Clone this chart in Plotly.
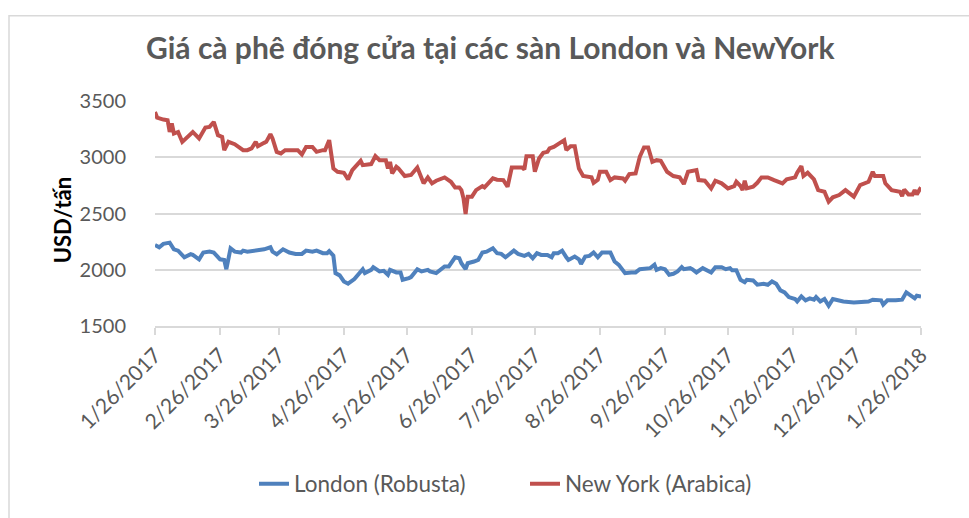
import pandas as pd
import plotly.graph_objects as go

# ---- data ----
start_date = "2017-01-26"

# New York (Arabica): days since 1/26/2017, USD/tấn
ny_day = [0, 1, 4, 6, 7, 8, 9, 11, 13, 17, 18, 21, 24, 26, 28, 30, 32, 33, 35, 38,
          42, 44, 46, 48, 49, 52, 53, 55, 56, 58, 60, 62, 67, 68, 70, 72, 75, 76, 77, 80,
          81, 83, 85, 87, 90, 92, 94, 98, 99, 103, 105, 107, 110, 111, 112, 113, 115, 116, 119, 122,
          125, 128, 130, 132, 134, 138, 141, 143, 145, 146, 147, 148, 149, 151, 153, 156, 157, 161, 163, 166,
          168, 170, 175, 176, 177, 180, 181, 183, 185, 187, 188, 190, 192, 195, 196, 198, 200, 202, 204, 208,
          209, 211, 212, 215, 217, 219, 223, 224, 226, 229, 231, 233, 235, 237, 239, 241, 244, 247, 250, 252,
          254, 258, 259, 262, 265, 267, 270, 273, 276, 277, 279, 280, 281, 282, 285, 287, 289, 292, 295, 299,
          301, 305, 306, 308, 309, 311, 314, 316, 319, 321, 323, 326, 329, 333, 336, 340, 342, 343, 347, 348,
          351, 355, 356, 357, 359, 361, 362, 363, 365]
ny_price = [3402, 3353, 3335, 3329, 3225, 3300, 3211, 3225, 3137, 3211, 3225, 3167, 3264, 3270, 3314, 3196, 3181, 3063, 3137, 3116,
            3063, 3063, 3078, 3137, 3098, 3128, 3137, 3205, 3167, 3048, 3034, 3063, 3069, 3063, 3025, 3092, 3092, 3069, 3048, 3063,
            3063, 3152, 2900, 2871, 2862, 2803, 2886, 2968, 2930, 2939, 3010, 2974, 2974, 2900, 2960, 2856, 2915, 2900, 2833, 2842,
            2909, 2768, 2821, 2768, 2791, 2821, 2782, 2732, 2732, 2708, 2635, 2495, 2650, 2650, 2708, 2744, 2732, 2812, 2800, 2797,
            2738, 2909, 2909, 2891, 3010, 3010, 2871, 2989, 3039, 3048, 3078, 3092, 3116, 3152, 3063, 3098, 3098, 2900, 2833, 2821,
            2773, 2800, 2871, 2871, 2797, 2821, 2812, 2791, 2850, 2856, 3004, 3087, 3087, 2960, 2974, 2968, 2871, 2833, 2821, 2762,
            2871, 2886, 2797, 2791, 2723, 2791, 2768, 2723, 2744, 2782, 2744, 2708, 2791, 2723, 2738, 2773, 2821, 2821, 2797, 2768,
            2803, 2821, 2862, 2921, 2833, 2862, 2803, 2708, 2693, 2605, 2644, 2664, 2708, 2650, 2753, 2782, 2871, 2833, 2833, 2768,
            2708, 2693, 2655, 2712, 2670, 2670, 2708, 2670, 2732]

# London (Robusta): days since 1/26/2017, USD/tấn
london_day = [0, 2, 4, 7, 9, 11, 14, 17, 18, 21, 23, 26, 28, 31, 33, 34, 36, 38, 41, 42,
              44, 47, 49, 52, 55, 56, 58, 61, 64, 67, 70, 72, 75, 77, 80, 82, 83, 85, 86, 88,
              90, 92, 95, 97, 99, 100, 103, 104, 107, 109, 111, 112, 115, 117, 118, 121, 122, 125, 127, 130,
              131, 134, 136, 138, 140, 143, 145, 146, 148, 149, 152, 154, 156, 158, 161, 163, 165, 167, 171, 173,
              176, 178, 180, 182, 184, 187, 189, 190, 192, 194, 196, 197, 200, 202, 203, 205, 207, 209, 211, 213,
              217, 219, 221, 224, 227, 229, 231, 234, 236, 238, 239, 241, 243, 245, 247, 249, 251, 252, 255, 256,
              258, 261, 263, 265, 267, 270, 272, 274, 275, 277, 279, 281, 282, 285, 287, 290, 292, 294, 296, 298,
              300, 302, 305, 306, 308, 310, 312, 314, 315, 317, 319, 321, 323, 325, 328, 333, 338, 340, 342, 346,
              347, 349, 353, 356, 358, 360, 362, 363, 365]
london_price = [2220, 2200, 2230, 2241, 2182, 2170, 2111, 2138, 2132, 2093, 2153, 2161, 2153, 2093, 2087, 2005, 2191, 2161, 2153, 2170,
                2161, 2170, 2182, 2182, 2200, 2161, 2138, 2182, 2153, 2141, 2141, 2170, 2161, 2170, 2147, 2147, 2165, 2125, 1970, 1950,
                1896, 1876, 1917, 1955, 2005, 1970, 1999, 2023, 1985, 1991, 1955, 1999, 1976, 1976, 1911, 1926, 1935, 2005, 1985, 1999,
                1985, 1970, 2005, 2029, 2029, 2111, 2102, 2058, 2005, 2058, 2073, 2087, 2153, 2161, 2191, 2147, 2141, 2111, 2170, 2141,
                2123, 2141, 2102, 2147, 2132, 2132, 2111, 2147, 2147, 2170, 2111, 2087, 2117, 2093, 2052, 2117, 2123, 2153, 2111, 2153,
                2153, 2073, 2044, 1970, 1976, 1976, 2005, 2014, 2014, 2044, 1999, 2014, 2005, 1955, 1964, 1985, 2023, 2005, 2014, 2005,
                1976, 2014, 1999, 1976, 2023, 2023, 2005, 2014, 1995, 1995, 1911, 1890, 1911, 1905, 1867, 1876, 1867, 1896, 1876, 1817,
                1799, 1757, 1740, 1718, 1763, 1728, 1746, 1734, 1757, 1718, 1740, 1680, 1740, 1728, 1718, 1710, 1710, 1718, 1734, 1728,
                1690, 1728, 1728, 1734, 1799, 1769, 1746, 1769, 1763]

tick_dates = ["2017-01-26", "2017-02-26", "2017-03-26", "2017-04-26", "2017-05-26", "2017-06-26",
              "2017-07-26", "2017-08-26", "2017-09-26", "2017-10-26", "2017-11-26", "2017-12-26", "2018-01-26"]
tick_labels = ["1/26/2017", "2/26/2017", "3/26/2017", "4/26/2017", "5/26/2017", "6/26/2017",
               "7/26/2017", "8/26/2017", "9/26/2017", "10/26/2017", "11/26/2017", "12/26/2017", "1/26/2018"]
y_ticks = [1500, 2000, 2500, 3000, 3500]

title_text = "Giá cà phê đóng cửa tại các sàn London và NewYork"
y_title = "USD/tấn"
name_london = "London (Robusta)"
name_ny = "New York (Arabica)"

# ---- build ----
t0 = pd.Timestamp(start_date)
london_x = [t0 + pd.Timedelta(days=d) for d in london_day]
ny_x = [t0 + pd.Timedelta(days=d) for d in ny_day]

FONT = "Lato"
GREY = "#595959"

fig = go.Figure()
fig.add_trace(go.Scatter(x=london_x, y=london_price, mode="lines", name=name_london,
                         line=dict(color="#4F81BD", width=4)))
fig.add_trace(go.Scatter(x=ny_x, y=ny_price, mode="lines", name=name_ny,
                         line=dict(color="#C0504D", width=4)))

fig.update_layout(
    width=969, height=518,
    margin=dict(l=155, r=48, t=101, b=192, autoexpand=False),
    paper_bgcolor="white", plot_bgcolor="white",
    font=dict(family=FONT, color=GREY, size=20),
    title=dict(text="<b>" + title_text + "</b>", x=0.506, xref="container", xanchor="center",
               y=1 - 48 / 518, yref="container", yanchor="middle",
               font=dict(family=FONT, size=30, color=GREY)),
    showlegend=True,
    legend=dict(orientation="h", x=254 / 969, xref="container", xanchor="left",
                y=1 - 484 / 518, yref="container", yanchor="middle",
                font=dict(family=FONT, size=22.5, color=GREY),
                entrywidth=226, entrywidthmode="pixels",
                bgcolor="rgba(0,0,0,0)"),
    xaxis=dict(range=[pd.Timestamp(tick_dates[0]), pd.Timestamp(tick_dates[-1])],
               tickmode="array", tickvals=tick_dates, ticktext=tick_labels, automargin=False,
               tickangle=-45, showgrid=False, showline=True, linecolor="#d9d9d9", linewidth=1.5,
               ticks="outside", ticklen=7, tickcolor="#d9d9d9", tickwidth=1.5,
               tickfont=dict(family=FONT, size=21, color=GREY), zeroline=False),
    yaxis=dict(range=[1500, 3500], tickmode="array", tickvals=y_ticks, automargin=False,
               showgrid=True, gridcolor="#d9d9d9", gridwidth=1.5, showline=False,
               zeroline=False, ticks="", ticklabelstandoff=28,
               tickfont=dict(family=FONT, size=20, color=GREY)),
    annotations=[dict(text="<b>" + y_title + "</b>", textangle=-90, showarrow=False,
                      xref="paper", yref="paper", x=(62 - 155) / 766, y=(326 - 220) / 225.6,
                      xanchor="center", yanchor="middle",
                      font=dict(family=FONT, size=22, color="black"))],
    shapes=[dict(type="rect", xref="paper", yref="paper",
                 x0=(9 - 155) / 766, x1=(975 - 155) / 766,
                 y0=(326 - 530) / 225.6, y1=(326 - 15) / 225.6,
                 line=dict(color="#d9d9d9", width=1.5), fillcolor="rgba(0,0,0,0)", layer="below")],
)

fig.write_html("out.html", config={"displayModeBar": False},
               post_script="document.body.style.margin='0';document.body.style.overflow='hidden';")
